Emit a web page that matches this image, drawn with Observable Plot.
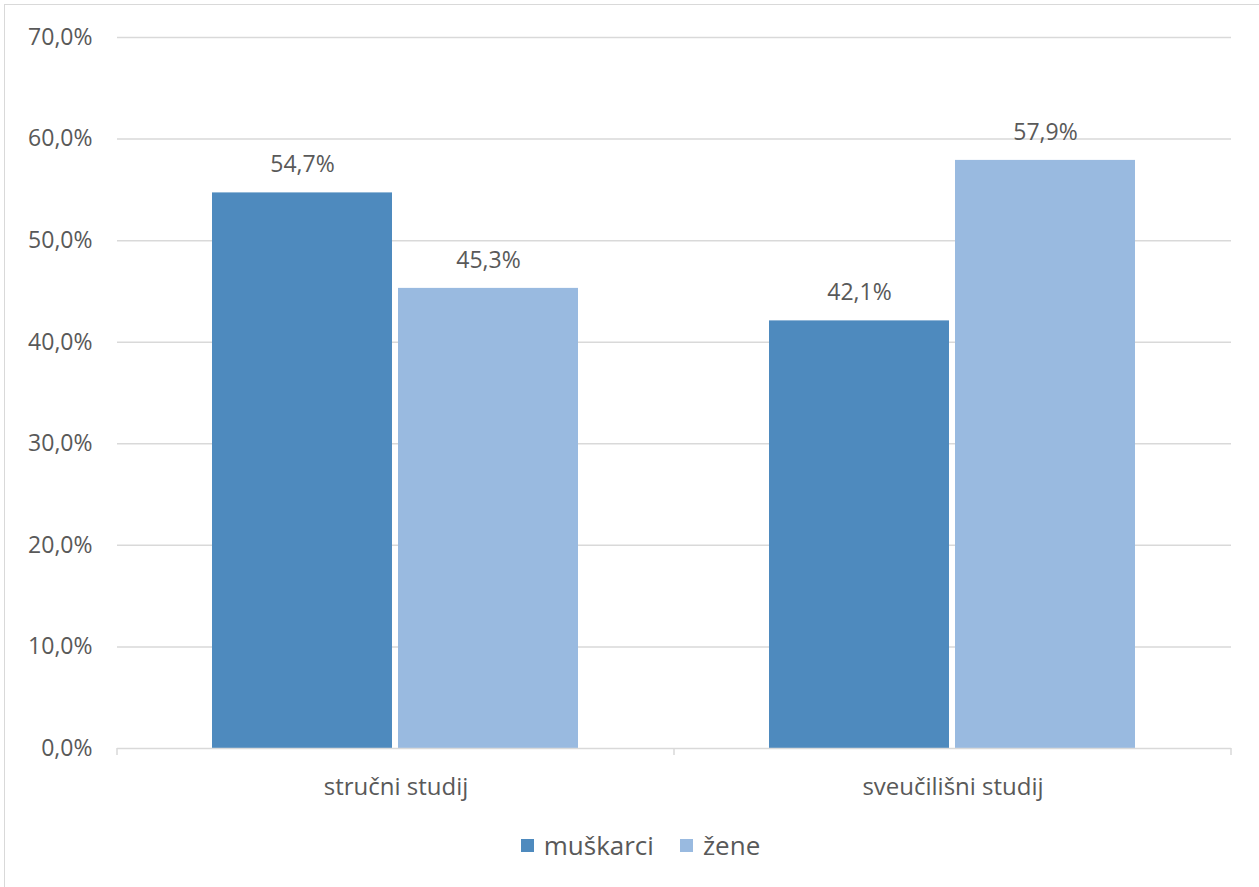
<!DOCTYPE html>
<html>
<head>
<meta charset="utf-8">
<script src="https://cdn.jsdelivr.net/npm/d3@7"></script>
<script src="https://cdn.jsdelivr.net/npm/@observablehq/plot@0.6"></script>
<style>
  html, body { margin: 0; padding: 0; background: #fff; }
  body { width: 1259px; height: 887px; overflow: hidden; position: relative; font-family: "Open Sans", "Noto Sans", sans-serif; }
  #frame { position: absolute; left: 4px; top: 4px; width: 1300px; height: 1000px; border: 1.5px solid #d9d9d9; box-sizing: border-box; }
  #chart { position: absolute; left: 0; top: 0; }
  #legend { position: absolute; left: 0; top: 827px; width: 1259px; display: flex; justify-content: center; gap: 26px; font-size: 26px; color: #595959; padding-left: 22px; box-sizing: border-box; }
  #legend .item { display: flex; align-items: center; gap: 10px; }
  #legend .sw { width: 13px; height: 13px; display: inline-block; }
</style>
</head>
<body>
<div id="frame"></div>
<div id="chart"></div>
<div id="legend"></div>
<script>
const categories = ["stručni studij", "sveučilišni studij"];
const series = ["muškarci", "žene"];
const muskarci = [54.7, 42.1];
const zene = [45.3, 57.9];
const colors = ["#4e8abe", "#99bae0"];
const yTicks = [0, 10, 20, 30, 40, 50, 60, 70];

const data = [];
categories.forEach((c, i) => {
  data.push({cat: c, s: series[0], v: muskarci[i]});
  data.push({cat: c, s: series[1], v: zene[i]});
});

const fmt = v => v.toFixed(1).replace(".", ",") + "%";

const plot = Plot.plot({
  width: 1259,
  height: 810,
  marginLeft: 117,
  marginRight: 28,
  marginTop: 37,
  marginBottom: 62,
  style: {fontFamily: '"Open Sans", "Noto Sans", sans-serif', color: "#595959", background: "transparent"},
  fx: {domain: categories, paddingInner: 0, paddingOuter: 0, label: null},
  x: {domain: series, paddingInner: 0.032, paddingOuter: 0.513, axis: null},
  y: {domain: [0, 70], axis: null},
  color: {domain: series, range: colors},
  marks: [
    Plot.gridY(yTicks.slice(1), {stroke: "#d9d9d9", strokeOpacity: 1, strokeWidth: 1.5}),
    Plot.axisY(yTicks, {tickSize: 0, tickPadding: 25, tickFormat: d => d.toFixed(1).replace(".", ",") + "%", fontSize: 23, fill: "#595959", label: null, facetAnchor: "left"}),
    Plot.barY(data, {fx: "cat", x: "s", y: "v", fill: "s"}),
    Plot.ruleY([0], {stroke: "#d9d9d9", strokeWidth: 1.5}),
    Plot.text(data, {fx: "cat", x: "s", y: "v", text: d => fmt(d.v), dy: -28, fontSize: 23, fill: "#595959"}),
    Plot.axisFx({anchor: "bottom", tickSize: 0, tickPadding: 29, fontSize: 24, fill: "#595959", label: null})
  ]
});
document.getElementById("chart").appendChild(plot);

// category separator ticks at band boundaries (Excel style)
const fx = plot.scale("fx");
const y = plot.scale("y");
const svg = d3.select(plot);
const y0 = y.apply(0);
const bounds = categories.map(c => fx.apply(c)).concat([fx.apply(categories[categories.length - 1]) + fx.bandwidth]);
svg.append("g").selectAll("line").data(bounds).join("line")
  .attr("x1", d => d).attr("x2", d => d)
  .attr("y1", y0).attr("y2", y0 + 7)
  .attr("stroke", "#d9d9d9").attr("stroke-width", 1.5);

// legend
const leg = d3.select("#legend");
series.forEach((s, i) => {
  const it = leg.append("div").attr("class", "item");
  it.append("span").attr("class", "sw").style("background", colors[i]);
  it.append("span").text(s);
});
</script>
</body>
</html>
